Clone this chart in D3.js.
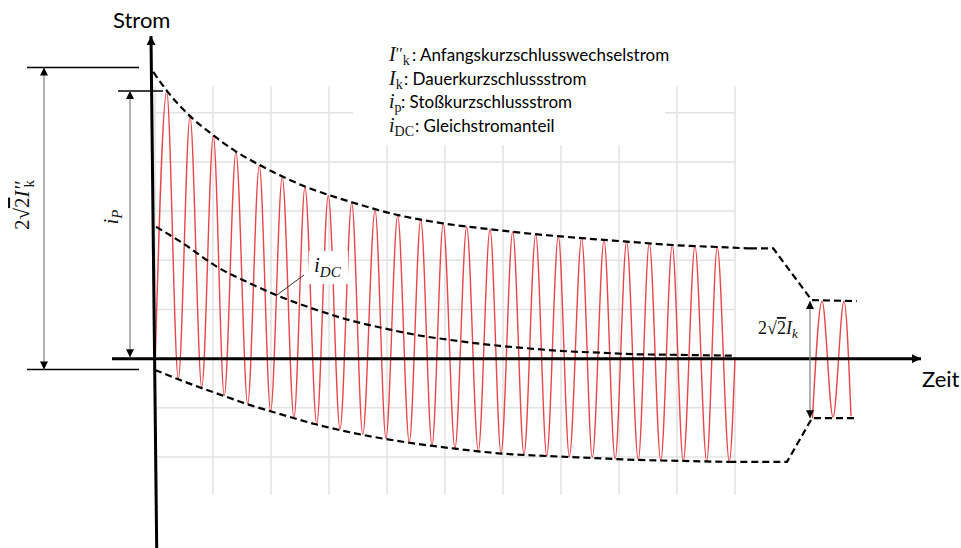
<!DOCTYPE html>
<meta charset="utf-8">
<head>
	<title>Kurzschlussstrom - Verlauf</title>
</head>

<style>
body { margin: 0; background: #fff; }
svg { display: block; background: #fff; }
.grid line { stroke: #e2e2e2; stroke-width: 1.5; }
.env { fill: none; stroke: #000; stroke-width: 2.2; stroke-dasharray: 7,4; }
.sig { fill: none; stroke: #e8464b; stroke-width: 1.4; }
.axis { stroke: #000; stroke-width: 3; fill: none; }
.dim { stroke: #808080; stroke-width: 1.2; }
.ext { stroke: #000; stroke-width: 1.5; }
.sans { font-family: Lato, "Open Sans", sans-serif; fill: #000; }
.math { font-family: "Liberation Serif", "DejaVu Serif", serif; fill: #111; }
</style>

<body>
<svg width="961" height="548"></svg>

<script src="https://cdnjs.cloudflare.com/ajax/libs/d3/7.8.5/d3.min.js"></script>
<script>

// Zeit in ms, Strom in Gittereinheiten
var peakTimes = [10.1, 30.2, 50.3, 69.8, 89.9, 109.7, 129.3, 149.4, 169.6, 189.7, 209.2, 229.1, 248.5,
	268.7, 288.8, 308.4, 328.2, 347.7, 367.8, 387.1, 406.6, 426.1, 445.9, 465.5, 484.7];
var peakValues = [5.43, 4.92, 4.53, 4.20, 3.93, 3.69, 3.49, 3.31, 3.17, 3.02, 2.91, 2.83, 2.74,
	2.68, 2.63, 2.58, 2.53, 2.49, 2.45, 2.41, 2.38, 2.35, 2.31, 2.29, 2.27];
var troughTimes = [20.1, 40.3, 59.7, 79.9, 99.7, 119.8, 139.4, 159.5, 179.1, 199.1, 219.2, 238.8, 258.6,
	278.7, 298.3, 318.1, 337.7, 357.2, 377, 396.6, 416.6, 436, 455.4, 475.6, 495.1];
var troughValues = [-0.41, -0.59, -0.75, -0.92, -1.06, -1.20, -1.33, -1.43, -1.54, -1.62, -1.70, -1.76, -1.82,
	-1.88, -1.92, -1.95, -1.97, -1.99, -2.01, -2.04, -2.06, -2.07, -2.08, -2.08, -2.09];
var signalStart = [0, -0.21];
var signalEnd = [500, 0.03];

// Hüllkurven
var upperTimes = [-1.5, 10.1, 30.2, 50.3, 69.8, 89.9, 129.3, 169.6, 209.2, 248.5, 288.8, 328.2, 367.8, 406.6, 445.9, 484.7, 512.9];
var upperValues = [5.83, 5.45, 4.93, 4.54, 4.21, 3.94, 3.50, 3.18, 2.92, 2.75, 2.63, 2.53, 2.45, 2.38, 2.31, 2.27, 2.24];
var upperTailTimes = [512.9, 533, 566.1, 604.9];
var upperTailValues = [2.24, 2.24, 1.19, 1.17];

var lowerTimes = [0, 20.1, 40.3, 59.7, 79.9, 99.7, 139.4, 179.1, 219.2, 258.6, 298.3, 337.7, 377, 416.6, 455.4, 495.1];
var lowerValues = [-0.23, -0.42, -0.60, -0.76, -0.93, -1.07, -1.34, -1.55, -1.71, -1.83, -1.93, -1.98, -2.02, -2.06, -2.08, -2.10];
var lowerTailTimes = [495.1, 544.8, 566.4, 605.2];
var lowerTailValues = [-2.10, -2.10, -1.21, -1.21];

// Gleichstromanteil
var dcTimes = [0.9, 24.4, 53.2, 81.9, 104.9, 139.4, 168.1, 196.8, 225.6, 254.3, 297.4, 326.1, 354.9, 383.6, 412.3, 441.1, 469.8, 498.5];
var dcValues = [2.68, 2.34, 1.87, 1.53, 1.29, 0.99, 0.78, 0.62, 0.48, 0.38, 0.26, 0.20, 0.15, 0.12, 0.09, 0.08, 0.07, 0.06];

// Dauerkurzschlussstrom (rechts)
var steadyTimes = [566.8, 575, 584.5, 594, 600];
var steadyValues = [-1.21, 1.17, -1.19, 1.17, -1.17];

// Gitter
var gridTimes = [0, 50, 100, 150, 200, 250, 300, 350, 400, 450, 500];
var gridLevels = [-2, -1, 0, 1, 2, 3, 4, 5];
var gridTop = 5.54, gridBottom = -2.77;

// Bemaßungen
var dimOuter = [-0.22, 5.92];
var dimPeak = [0, 5.44];
var dimSteady = [-1.21, 1.17];

// Legende
var legendBase = ['I', 'I', 'i', 'i'];
var legendSup = ['′′', '', '', ''];
var legendSub = ['k', 'k', 'p', 'DC'];
var legendText = ['Anfangskurzschlusswechselstrom', 'Dauerkurzschlussstrom', 'Stoßkurzschlussstrom', 'Gleichstromanteil'];
var legendColonX = [412, 404, 401, 415];

var svg = d3.select('svg');

var x = d3.scaleLinear().domain([0, 500]).range([155, 735]);
var y = d3.scaleLinear().domain([-2, 5]).range([457, 112.7]);

function pairs(ts, vs){
	return ts.map(function(t, i){ return [t, vs[i]]; });
}

var smooth = d3.line()
	.x(function(d){ return x(d[0]); })
	.y(function(d){ return y(d[1]); })
	.curve(d3.curveMonotoneX);

var straight = d3.line()
	.x(function(d){ return x(d[0]); })
	.y(function(d){ return y(d[1]); });

// markers
var defs = svg.append('defs');
defs.append('marker')
	.attr('id', 'arr')
	.attr('viewBox', '0 0 10 10')
	.attr('refX', 10).attr('refY', 5)
	.attr('markerWidth', 9).attr('markerHeight', 8)
	.attr('markerUnits', 'userSpaceOnUse')
	.attr('orient', 'auto-start-reverse')
	.append('path').attr('d', 'M0,0L10,5L0,10z').attr('fill', '#000');
defs.append('marker')
	.attr('id', 'axarr')
	.attr('viewBox', '0 0 10 10')
	.attr('refX', 10).attr('refY', 5)
	.attr('markerWidth', 10).attr('markerHeight', 9)
	.attr('markerUnits', 'userSpaceOnUse')
	.attr('orient', 'auto')
	.append('path').attr('d', 'M0,0L10,5L0,10z').attr('fill', '#000');

// grid
var grid = svg.append('g').attr('class', 'grid');
grid.selectAll('line.v')
	.data(gridTimes)
	.enter()
	.append('line')
	.attr('class', 'v')
	.attr('x1', function(d){ return x(d); })
	.attr('x2', function(d){ return x(d); })
	.attr('y1', y(gridBottom))
	.attr('y2', y(gridTop));
grid.selectAll('line.h')
	.data(gridLevels)
	.enter()
	.append('line')
	.attr('class', 'h')
	.attr('x1', x(0))
	.attr('x2', x(500))
	.attr('y1', function(d){ return y(d); })
	.attr('y2', function(d){ return y(d); });

// legend background
svg.append('rect')
	.attr('x', 353).attr('y', 40)
	.attr('width', 312).attr('height', 105)
	.attr('fill', '#fff');

// signal
var signal = [signalStart];
peakTimes.forEach(function(t, i){
	signal.push([t, peakValues[i]]);
	signal.push([troughTimes[i], troughValues[i]]);
});
signal.push(signalEnd);

svg.append('path')
	.attr('class', 'sig')
	.attr('d', smooth(signal));

svg.append('path')
	.attr('class', 'sig')
	.attr('d', smooth(pairs(steadyTimes, steadyValues)));

// envelopes
svg.append('path').attr('class', 'env').attr('d', smooth(pairs(upperTimes, upperValues)));
svg.append('path').attr('class', 'env').attr('d', straight(pairs(upperTailTimes, upperTailValues)));
svg.append('path').attr('class', 'env').attr('d', smooth(pairs(lowerTimes, lowerValues)));
svg.append('path').attr('class', 'env').attr('d', straight(pairs(lowerTailTimes, lowerTailValues)));
svg.append('path').attr('class', 'env').attr('d', smooth(pairs(dcTimes, dcValues)));

// i_DC label
svg.append('line')
	.attr('x1', x(dcTimes[4])).attr('y1', y(dcValues[4]))
	.attr('x2', 304).attr('y2', 275)
	.attr('stroke', '#333').attr('stroke-width', 1);
svg.append('rect')
	.attr('x', 309).attr('y', 251)
	.attr('width', 39).attr('height', 33)
	.attr('fill', '#fff');
var dcl = svg.append('text').attr('class', 'math').attr('x', 314).attr('y', 272).style('font-size', '21px').style('font-style', 'italic');
dcl.append('tspan').text('i');
dcl.append('tspan').attr('dy', 5).style('font-size', '15px').text('DC');

// axes
var yZero = y(0);
svg.append('line').attr('class', 'axis')
	.attr('x1', 112).attr('y1', yZero)
	.attr('x2', 921).attr('y2', yZero)
	.attr('marker-end', 'url(#axarr)');
svg.append('line').attr('class', 'axis')
	.attr('x1', 156.7).attr('y1', 548)
	.attr('x2', 151).attr('y2', 36)
	.attr('stroke-width', 2.7)
	.attr('marker-end', 'url(#axarr)');

svg.append('text').attr('class', 'sans')
	.attr('x', 113).attr('y', 28)
	.style('font-size', '22px')
	.text('Strom');
svg.append('text').attr('class', 'sans')
	.attr('x', 922).attr('y', 387)
	.style('font-size', '22px')
	.text('Zeit');

// dimension lines
svg.append('line').attr('class', 'ext').attr('x1', 27).attr('x2', 139).attr('y1', y(dimOuter[1])).attr('y2', y(dimOuter[1]));
svg.append('line').attr('class', 'ext').attr('x1', 27).attr('x2', 139).attr('y1', y(dimOuter[0])).attr('y2', y(dimOuter[0]));
svg.append('line').attr('class', 'dim')
	.attr('x1', 44).attr('x2', 44)
	.attr('y1', y(dimOuter[0])).attr('y2', y(dimOuter[1]))
	.attr('marker-start', 'url(#arr)').attr('marker-end', 'url(#arr)');

svg.append('line').attr('class', 'ext').attr('x1', 118).attr('x2', 163).attr('y1', y(dimPeak[1])).attr('y2', y(dimPeak[1]));
svg.append('line').attr('class', 'dim')
	.attr('x1', 130).attr('x2', 130)
	.attr('y1', y(dimPeak[0]) - 1.5).attr('y2', y(dimPeak[1]))
	.attr('marker-start', 'url(#arr)').attr('marker-end', 'url(#arr)');

svg.append('line').attr('class', 'dim')
	.attr('x1', 810).attr('x2', 810)
	.attr('y1', y(dimSteady[0])).attr('y2', y(dimSteady[1]))
	.attr('marker-start', 'url(#arr)').attr('marker-end', 'url(#arr)');

// labels of dimensions
var g1 = svg.append('g').attr('transform', 'translate(29,205) rotate(-90)');
var t1 = g1.append('text').attr('class', 'math').attr('text-anchor', 'middle').style('font-size', '21px');
t1.append('tspan').text('2√');
t1.append('tspan').style('text-decoration', 'overline').text('2');
t1.append('tspan').style('font-style', 'italic').text('I′′');
t1.append('tspan').attr('dx', -6).attr('dy', 5).style('font-size', '15px').text('k');

var g2 = svg.append('g').attr('transform', 'translate(118,217) rotate(-90)');
var t2 = g2.append('text').attr('class', 'math').attr('text-anchor', 'middle').style('font-size', '21px').style('font-style', 'italic');
t2.append('tspan').text('i');
t2.append('tspan').attr('dy', 4).style('font-size', '15px').text('P');

var t3 = svg.append('text').attr('class', 'math').attr('x', 758).attr('y', 334).style('font-size', '18px');
t3.append('tspan').text('2√');
t3.append('tspan').style('text-decoration', 'overline').text('2');
t3.append('tspan').style('font-style', 'italic').text('I');
t3.append('tspan').attr('dy', 4).style('font-size', '13px').style('font-style', 'italic').text('k');

// legend
legendText.forEach(function(txt, i){
	var t = svg.append('text').attr('x', 389).attr('y', 61 + i * 23.5);
	t.append('tspan').attr('class', 'math').style('font-size', '20px').style('font-style', 'italic').text(legendBase[i]);
	if (legendSup[i]) {
		t.append('tspan').attr('class', 'math').attr('dy', -2).style('font-size', '16px').text(legendSup[i]);
	}
	t.append('tspan').attr('class', 'math').attr('dy', legendSup[i] ? 6 : 4).style('font-size', '14px').text(legendSub[i]);
	t.append('tspan').attr('class', 'sans').attr('x', legendColonX[i]).attr('dy', -4).style('font-size', '17px').text(': ' + txt);
});

</script>

</body>
</html>
